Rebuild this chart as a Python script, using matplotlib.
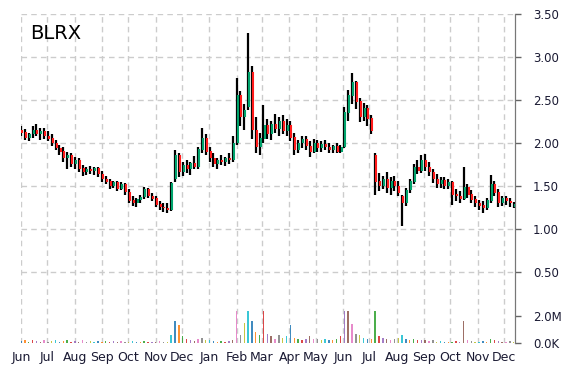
import numpy as np
import pandas as pd
import matplotlib
matplotlib.use("Agg")
import matplotlib.pyplot as plt
import matplotlib.dates as mdates
from matplotlib.ticker import FixedLocator, FixedFormatter

ticker_name = "BLRX"

# one bar every ~3 trading days, Jun 2015 .. mid Dec 2016 (one row per month)
opens = [
    2.15, 2.12, 2.06, 2.10, 2.15, 2.10, 2.14,
    2.08, 2.05, 2.00, 1.94, 1.90, 1.82, 1.85,
    1.76, 1.80, 1.70, 1.66, 1.69, 1.67, 1.70,
    1.64, 1.58, 1.55, 1.50, 1.54, 1.47, 1.52,
    1.43, 1.33, 1.30, 1.34, 1.37, 1.46, 1.38,
    1.35, 1.28, 1.25, 1.24, 1.22, 1.58, 1.85,
    1.66, 1.74, 1.70, 1.76, 1.72, 1.92, 2.05,
    1.90, 1.82, 1.76, 1.80, 1.78, 1.82, 1.80,
    2.00, 2.55, 2.30, 2.42, 2.82, 2.15, 1.95,
    2.05, 2.20, 2.10, 2.22, 2.16, 2.25, 2.14,
    2.20, 2.06, 1.92, 2.00, 2.04, 1.96, 1.90,
    2.00, 1.94, 1.98, 1.95, 1.92, 1.96, 1.90,
    1.95, 2.35, 2.55, 2.70, 2.48, 2.30, 2.40,
    2.28, 1.85, 1.55, 1.50, 1.58, 1.48, 1.55,
    1.50, 1.38, 1.30, 1.45, 1.55, 1.72, 1.68,
    1.80, 1.72, 1.66, 1.58, 1.52, 1.56, 1.50,
    1.54, 1.40, 1.38, 1.35, 1.48, 1.40, 1.34,
    1.30, 1.27, 1.24, 1.33, 1.52, 1.42, 1.30,
    1.35, 1.32, 1.25,
]
highs = [
    2.20, 2.16, 2.12, 2.20, 2.22, 2.18, 2.17,
    2.14, 2.10, 2.04, 1.98, 1.95, 1.90, 1.88,
    1.84, 1.82, 1.74, 1.72, 1.73, 1.72, 1.72,
    1.68, 1.62, 1.58, 1.56, 1.56, 1.55, 1.54,
    1.46, 1.38, 1.36, 1.40, 1.49, 1.48, 1.42,
    1.38, 1.32, 1.30, 1.30, 1.55, 1.92, 1.88,
    1.78, 1.80, 1.78, 1.85, 1.95, 2.17, 2.10,
    1.95, 1.88, 1.82, 1.86, 1.84, 1.88, 2.08,
    2.76, 2.60, 2.45, 3.28, 2.90, 2.30, 2.12,
    2.44, 2.28, 2.25, 2.34, 2.30, 2.32, 2.28,
    2.26, 2.12, 2.04, 2.08, 2.08, 2.02, 2.05,
    2.04, 2.02, 2.04, 2.00, 1.98, 2.00, 1.98,
    2.42, 2.62, 2.81, 2.72, 2.52, 2.46, 2.44,
    2.32, 1.88, 1.65, 1.62, 1.66, 1.60, 1.62,
    1.56, 1.40, 1.48, 1.58, 1.76, 1.80, 1.86,
    1.87, 1.78, 1.70, 1.64, 1.60, 1.60, 1.58,
    1.56, 1.46, 1.44, 1.72, 1.52, 1.45, 1.38,
    1.34, 1.32, 1.36, 1.63, 1.56, 1.46, 1.38,
    1.38, 1.36, 1.31,
]
lows = [
    2.08, 2.04, 2.02, 2.06, 2.08, 2.04, 2.05,
    2.02, 1.96, 1.92, 1.86, 1.78, 1.70, 1.72,
    1.70, 1.66, 1.62, 1.63, 1.64, 1.63, 1.60,
    1.55, 1.52, 1.47, 1.48, 1.44, 1.45, 1.40,
    1.30, 1.27, 1.26, 1.30, 1.35, 1.36, 1.32,
    1.26, 1.22, 1.20, 1.19, 1.21, 1.55, 1.60,
    1.62, 1.65, 1.63, 1.70, 1.70, 1.88, 1.86,
    1.78, 1.72, 1.70, 1.74, 1.73, 1.76, 1.78,
    1.98, 2.20, 2.15, 2.38, 2.05, 1.88, 1.86,
    2.00, 2.05, 2.04, 2.12, 2.08, 2.10, 2.08,
    2.02, 1.86, 1.88, 1.94, 1.92, 1.84, 1.88,
    1.90, 1.90, 1.92, 1.88, 1.88, 1.88, 1.88,
    1.94, 2.25, 2.45, 2.40, 2.24, 2.25, 2.20,
    2.10, 1.40, 1.44, 1.46, 1.42, 1.40, 1.44,
    1.38, 1.03, 1.27, 1.42, 1.52, 1.64, 1.65,
    1.68, 1.62, 1.54, 1.48, 1.48, 1.46, 1.46,
    1.28, 1.33, 1.30, 1.34, 1.36, 1.30, 1.26,
    1.22, 1.18, 1.22, 1.30, 1.38, 1.26, 1.27,
    1.28, 1.26, 1.24,
]
closes = [
    2.12, 2.06, 2.10, 2.15, 2.10, 2.14, 2.08,
    2.05, 2.00, 1.94, 1.90, 1.82, 1.85, 1.76,
    1.80, 1.70, 1.66, 1.69, 1.67, 1.70, 1.64,
    1.58, 1.55, 1.50, 1.54, 1.47, 1.52, 1.43,
    1.33, 1.30, 1.34, 1.37, 1.46, 1.38, 1.35,
    1.28, 1.25, 1.24, 1.22, 1.53, 1.85, 1.66,
    1.74, 1.70, 1.76, 1.72, 1.92, 2.05, 1.90,
    1.82, 1.76, 1.80, 1.78, 1.82, 1.80, 2.00,
    2.55, 2.30, 2.38, 2.82, 2.15, 1.95, 2.05,
    2.20, 2.10, 2.22, 2.16, 2.25, 2.14, 2.20,
    2.06, 1.92, 2.00, 2.04, 1.96, 1.90, 2.00,
    1.94, 1.98, 1.95, 1.92, 1.96, 1.90, 1.95,
    2.35, 2.55, 2.70, 2.48, 2.30, 2.40, 2.28,
    2.14, 1.55, 1.50, 1.58, 1.48, 1.55, 1.50,
    1.42, 1.30, 1.45, 1.55, 1.72, 1.68, 1.80,
    1.72, 1.66, 1.58, 1.52, 1.56, 1.50, 1.54,
    1.40, 1.38, 1.35, 1.48, 1.40, 1.34, 1.30,
    1.27, 1.24, 1.33, 1.52, 1.42, 1.30, 1.35,
    1.32, 1.30, 1.29,
]
volumes_m = [
    0.15, 0.20, 0.10, 0.25, 0.15, 0.10, 0.20,
    0.10, 0.15, 0.20, 0.10, 0.15, 0.20, 0.10,
    0.15, 0.10, 0.20, 0.10, 0.15, 0.10, 0.12,
    0.10, 0.15, 0.10, 0.12, 0.10, 0.15, 0.10,
    0.10, 0.12, 0.10, 0.10, 0.15, 0.10, 0.10,
    0.10, 0.12, 0.10, 0.10, 0.60, 1.60, 1.30,
    0.50, 0.30, 0.20, 0.15, 0.30, 0.40, 0.20,
    0.25, 0.15, 0.10, 0.12, 0.10, 0.15, 0.20,
    2.40, 0.60, 1.50, 2.40, 1.60, 0.80, 0.60,
    2.40, 0.70, 0.50, 0.30, 0.60, 0.40, 0.50,
    1.30, 0.40, 0.30, 0.20, 0.30, 0.50, 0.30,
    0.30, 0.20, 0.30, 0.20, 0.20, 0.30, 0.50,
    2.40, 2.40, 1.40, 0.70, 0.60, 0.40, 0.30,
    0.30, 2.40, 0.50, 0.40, 0.30, 0.20, 0.30,
    0.40, 0.60, 0.30, 0.20, 0.30, 0.20, 0.20,
    0.20, 0.15, 0.20, 0.10, 0.15, 0.10, 0.10,
    0.10, 0.15, 0.10, 1.60, 0.20, 0.15, 0.10,
    0.10, 0.15, 0.10, 0.30, 0.20, 0.15, 0.10,
    0.10, 0.15, 0.10,
]

price_ticks = [0.5, 1.0, 1.5, 2.0, 2.5, 3.0, 3.5]
vol_ticks = [0, 2e6]
vol_labels = ["0.0K", "2.0M"]

dates = pd.date_range("2015-06-01", "2016-12-12", periods=len(closes))
x = mdates.date2num(dates)
o = np.array(opens)
h = np.array(highs)
l = np.array(lows)
c = np.array(closes)
vol = np.array(volumes_m) * 1e6

fig = plt.figure(figsize=(5.7, 3.7), dpi=100)
ax = fig.add_axes([21 / 570, 1 - 343 / 370, 494 / 570, 329 / 370])
ax2 = ax.twinx()

grid_kw = dict(color="#cccccc", linestyle=(0, (4, 3)), linewidth=1.0)
ax.set_axisbelow(True)
ax.grid(True, **grid_kw)

up = c >= o
body_col = np.where(up, "#00a36c", "#ff1a1a")
ax.vlines(x, l, h, colors="black", linewidth=1.6, zorder=3)
ax.vlines(x + 1.2, np.minimum(o, c), np.maximum(o, c) + 0.005,
          colors=body_col, linewidth=1.5, zorder=4)

ax.set_xlim(mdates.date2num(pd.Timestamp("2015-06-01")),
            mdates.date2num(pd.Timestamp("2016-12-13 12:00")))
ax.set_ylim(-0.326, 3.5)

months = pd.date_range("2015-06-01", "2016-12-01", freq="MS")
ax.xaxis.set_major_locator(FixedLocator(mdates.date2num(months)))
ax.xaxis.set_major_formatter(FixedFormatter([m.strftime("%b") for m in months]))
ax.tick_params(axis="x", length=0, pad=6, labelsize=9, labelcolor="#1a1a33")

ax.yaxis.tick_right()
ax.yaxis.set_label_position("right")
ax.set_yticks(price_ticks)
ax.set_yticklabels(["%.2f" % t for t in price_ticks])
ax.tick_params(axis="y", which="both", left=False, labelleft=False,
               right=True, labelright=True, length=4, width=1,
               color="#666666", pad=9, labelsize=8.5, labelcolor="#1a1a33")

for s in ["top", "left", "bottom"]:
    ax.spines[s].set_visible(False)
ax.spines["right"].set_color("#777777")

# volume panel under the prices, same right axis
ax2.set_ylim(0, 24.4e6)
colors = plt.rcParams["axes.prop_cycle"].by_key()["color"]
for i in range(len(x)):
    ax2.bar(x[i], vol[i], width=1.6, color=colors[i % len(colors)],
            alpha=0.85, linewidth=0)
ax2.set_yticks(vol_ticks)
ax2.set_yticklabels(vol_labels)
ax2.tick_params(axis="y", length=4, width=1, color="#666666", pad=9,
                labelsize=8.5, labelcolor="#1a1a33")
for s in ["top", "left", "bottom"]:
    ax2.spines[s].set_visible(False)
ax2.spines["right"].set_color("#777777")

fig.text(30 / 570, 1 - 39 / 370, ticker_name, fontsize=14, va="baseline",
         ha="left", color="black")

fig.savefig("out.png", dpi=100)
